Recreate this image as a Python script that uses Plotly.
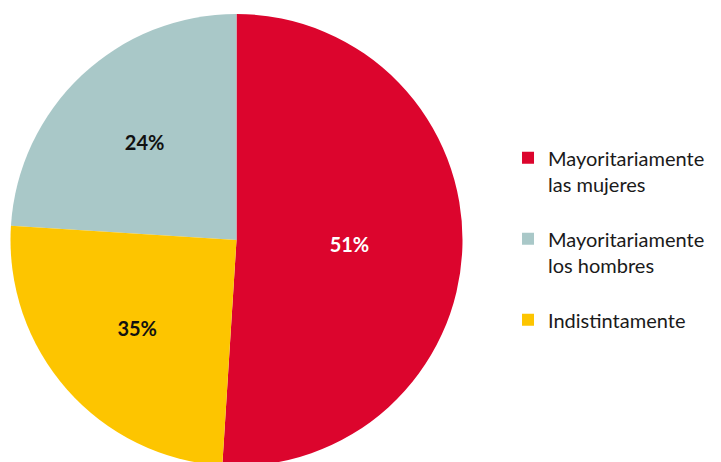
import plotly.graph_objects as go

# slices in legend order
labels = ["Mayoritariamente<br>las mujeres<br> ", "Mayoritariamente<br>los hombres<br> ", "Indistintamente"]
values = [51, 24, 25]
texts = ["51%", "24%", "35%"]
colors = ["#DC052D", "#A9C8C8", "#FDC500"]
text_colors = ["white", "#111111", "#111111"]

fig = go.Figure(go.Pie(
    labels=labels,
    values=values,
    text=texts,
    textinfo="text",
    textposition="inside",
    insidetextorientation="horizontal",
    textfont=dict(family="Lato", size=20, color=text_colors, weight="bold"),
    marker=dict(colors=colors, line=dict(width=0)),
    sort=False,
    direction="counterclockwise",
    rotation=0,
    hoverinfo="label+percent",
    domain=dict(x=[2.5 / 721, 454.5 / 721], y=[0, 1]),
))

fig.update_layout(
    width=721,
    height=462,
    margin=dict(l=0, r=0, t=6, b=4),
    paper_bgcolor="white",
    plot_bgcolor="white",
    font=dict(family="Lato", size=20, color="#1a1a1a"),
    legend=dict(
        x=0.6935, y=0.725, xanchor="left", yanchor="top",
        valign="top",
        font=dict(family="Lato", size=20, color="#1a1a1a"),
    ),
)

fig.write_html("out.html")
